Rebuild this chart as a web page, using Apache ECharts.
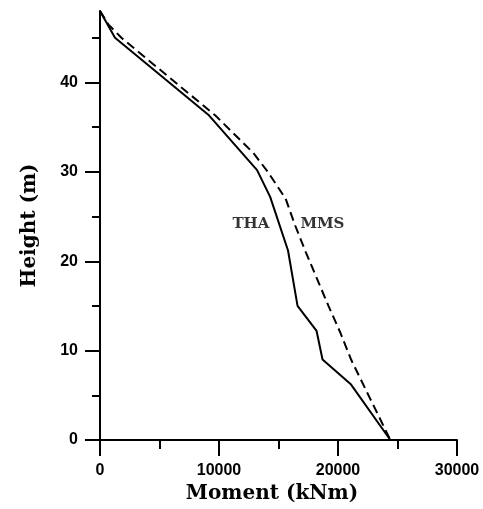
<!DOCTYPE html>
<html>
<head>
<meta charset="utf-8">
<script src="https://cdn.jsdelivr.net/npm/echarts@6/dist/echarts.min.js"></script>
<style>html,body{margin:0;padding:0;background:#fff}#c{width:483px;height:509px}</style>
</head>
<body>
<div id="c"></div>
<script>
// THA (solid) : [moment kNm, height m]
var thaMoment = [0, 1260, 9100, 13200, 14300, 15800, 16600, 18200, 18700, 21100, 24400];
var thaHeight = [48, 45, 36.4, 30.2, 27.2, 21.2, 15, 12.2, 9, 6.2, 0];
// MMS (dashed)
var mmsMoment = [0, 700, 1800, 9700, 12900, 14100, 15600, 16400, 17300, 19200, 20200, 21100, 22200, 24400];
var mmsHeight = [48, 46.5, 45, 36.3, 32.1, 30, 27, 24, 21, 15, 12, 9, 6, 0];
// text labels
var labelNames = ['THA', 'MMS'];
var labelMoment = [12680, 18690];
var labelHeight = [24.2, 24.2];
// ticks
var xMajorTicks = [0, 10000, 20000, 30000];
var xMinorTicks = [5000, 15000, 25000];
var yMajorTicks = [0, 10, 20, 30, 40];
var yMinorTicks = [5, 15, 25, 35, 45];

function pairs(a, b) { return a.map(function (v, i) { return [v, b[i]]; }); }
function plain(v) { return String(v); }

var labelFont = '"Liberation Sans", Arial, sans-serif';
var serif = '"DejaVu Serif", serif';

var chart = echarts.init(document.getElementById('c'), null, { renderer: 'canvas' });
chart.setOption({
  animation: false,
  backgroundColor: '#fff',
  grid: { left: 100, right: 26, top: 11, bottom: 69 },
  xAxis: [{
    type: 'value', min: 0, max: 30000, interval: 10000,
    name: 'Moment (kNm)', nameLocation: 'middle', nameGap: 44,
    nameTextStyle: { fontFamily: serif, fontWeight: 'bold', fontSize: 20, color: '#000', padding: [0, 13, 0, 0] },
    axisLine: { show: true, onZero: false, lineStyle: { color: '#000', width: 2 } },
    axisTick: { show: true, length: 16, lineStyle: { color: '#000', width: 2 }, customValues: xMajorTicks },
    axisLabel: { margin: 23, fontFamily: labelFont, fontWeight: 'bold', fontSize: 16, color: '#000', customValues: xMajorTicks, formatter: plain },
    splitLine: { show: false }
  }, {
    type: 'value', min: 0, max: 30000, position: 'bottom',
    axisLine: { show: false },
    axisTick: { show: true, length: 9, lineStyle: { color: '#000', width: 2 }, customValues: xMinorTicks },
    axisLabel: { show: false },
    splitLine: { show: false }
  }],
  yAxis: [{
    type: 'value', min: 0, max: 48, interval: 10,
    name: 'Height (m)', nameLocation: 'middle', nameGap: 60,
    nameTextStyle: { fontFamily: serif, fontWeight: 'bold', fontSize: 20, color: '#000' },
    axisLine: { show: true, onZero: false, lineStyle: { color: '#000', width: 2 } },
    axisTick: { show: true, length: 15, lineStyle: { color: '#000', width: 2 }, customValues: yMajorTicks },
    axisLabel: { margin: 22, fontFamily: labelFont, fontWeight: 'bold', fontSize: 16, color: '#000', customValues: yMajorTicks, formatter: plain },
    splitLine: { show: false }
  }, {
    type: 'value', min: 0, max: 48, position: 'left',
    axisLine: { show: false },
    axisTick: { show: true, length: 8, lineStyle: { color: '#000', width: 2 }, customValues: yMinorTicks },
    axisLabel: { show: false },
    splitLine: { show: false }
  }],
  series: [{
    name: 'THA', type: 'line', data: pairs(thaMoment, thaHeight),
    symbol: 'none', lineStyle: { color: '#000', width: 2, type: 'solid' }
  }, {
    name: 'MMS', type: 'line', data: pairs(mmsMoment, mmsHeight),
    symbol: 'none', lineStyle: { color: '#000', width: 2, type: [9, 5] }
  }, {
    type: 'scatter', symbolSize: 0,
    data: labelNames.map(function (n, i) { return { name: n, value: [labelMoment[i], labelHeight[i]] }; }),
    label: { show: true, position: 'inside', formatter: '{b}', fontFamily: serif, fontWeight: 'bold', fontSize: 15, color: '#000' },
    silent: true
  }]
});
</script>
</body>
</html>
